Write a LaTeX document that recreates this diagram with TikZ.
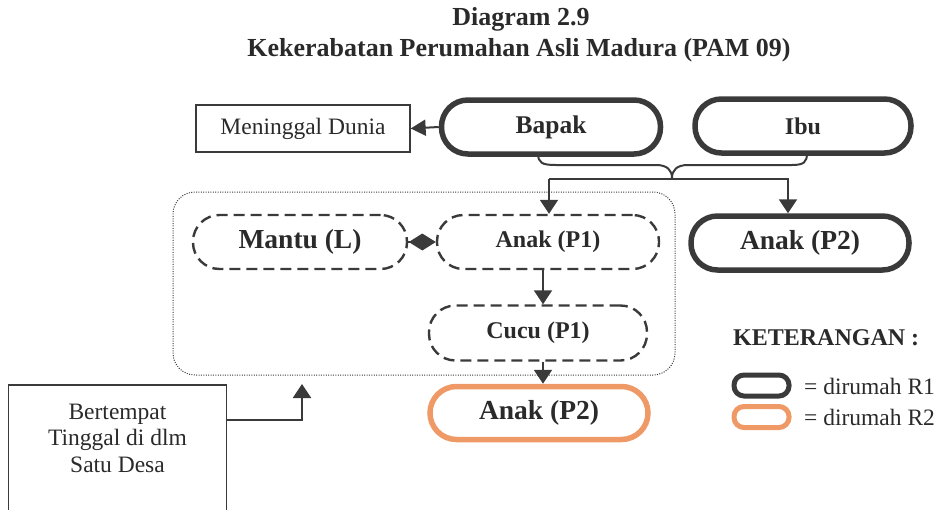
\documentclass[tikz,border=0pt]{standalone}
\usepackage{fontspec}
\setmainfont{Liberation Serif}
\usetikzlibrary{arrows.meta,calc}
\definecolor{ink}{HTML}{2A2A2A}
\definecolor{edge}{HTML}{3A3A3A}
\definecolor{peach}{HTML}{EF9A66}
\begin{document}
\begin{tikzpicture}[x=1pt,y=-1pt,
  every node/.style={text=ink},
  txt/.style={font=\fontsize{23.5}{26.5}\selectfont},
  btxt/.style={font=\bfseries\fontsize{24}{28}\selectfont},
  big/.style={font=\bfseries\fontsize{27.5}{30}\selectfont},
  pill/.style={btxt, draw=edge, line width=5.5pt, rounded corners=26.5pt,
    minimum width=218pt, minimum height=54pt, inner sep=0pt},
  homepill/.style={pill, draw=peach, line width=5.5pt},
  dashpill/.style={pill, line width=2.4pt, dash pattern=on 11pt off 6pt},
  plainbox/.style={txt, draw=edge, line width=1.3pt, inner sep=0pt},
  arr/.style={draw=edge, line width=2pt, -{Triangle[length=14pt,width=18pt]}},
  keypill/.style={draw=edge, line width=5pt, rounded corners=10pt,
    minimum width=55pt, minimum height=21pt, inner sep=0pt},
]
\useasboundingbox (0,0) rectangle (940,509);

% title
\node[font=\bfseries\fontsize{26}{30}\selectfont] (t1) at (521,19) {Diagram 2.9};
\node[font=\bfseries\fontsize{26}{30}\selectfont] (t2) at (519,50)
  {Kekerabatan Perumahan Asli Madura (PAM 09)};

% parents
\node[pill, minimum width=219pt, font=\bfseries\fontsize{25.5}{28}\selectfont] (bapak) at (551,127) {Bapak};
\node[pill, minimum width=216pt] (ibu) at (803,126) {Ibu};
\node[plainbox, minimum width=214pt, minimum height=47pt] (dead) at (303,128.5) {Meninggal Dunia};

% group living in one village
\node[draw=edge, line width=1pt, dash pattern=on 1pt off 1.4pt,
  rounded corners=22pt, minimum width=502pt, minimum height=183pt] (group) at (424,283.5) {};

% children
\node[dashpill, big, minimum width=214pt] (mantu) at (300,242) {Mantu (L)};
\node[dashpill, minimum width=222pt] (anak1) at (548,242) {Anak (P1)};
\node[dashpill, minimum width=218pt, minimum height=55pt] (cucu) at (538,333) {Cucu (P1)};
\node[homepill, big, minimum width=218pt, minimum height=53pt] (anak2b) at (539,413) {Anak (P2)};
\node[pill, big, minimum width=218pt] (anak2a) at (800,243) {Anak (P2)};

% village box
\node[txt, align=center, minimum width=217pt, minimum height=106pt, inner sep=0pt,
  anchor=north] (desa) at (117.5,385) {Bertempat\\Tinggal di dlm\\Satu Desa};
\draw[edge, line width=1.3pt] (desa.south west) -- ++(0,40) (desa.south west)
  -- (desa.north west) -- (desa.north east) -- (desa.south east) -- ++(0,40);

% legend
\node[btxt, anchor=west, inner sep=0pt] (ket) at (733,338) {KETERANGAN :};
\node[keypill] (k1) at (761.5,385.5) {};
\node[keypill, draw=peach] (k2) at (761.5,417) {};
\node[txt, anchor=west, inner sep=0pt] (k1t) at (804,386) {= dirumah R1};
\node[txt, anchor=west, inner sep=0pt] (k2t) at (804,417) {= dirumah R2};

% connectors
\coordinate (bl) at (538,153);
\coordinate (br) at (807,153);
\coordinate (tip) at (672,178);
\coordinate (spine) at (543,0);
\coordinate (rdrop) at (788,0);
\coordinate (uptip) at (302,384);

\draw[arr, -{Triangle[length=15pt,width=16pt]}] (bapak.west) -- (dead.east);
\draw[edge, line width=2pt]
  (bl) .. controls (538,163) and (542,165) .. (556,165) -- (656,165)
  .. controls (667,165) and (672,170) .. (tip)
  .. controls (672,170) and (677,165) .. (688,165) -- (792,165)
  .. controls (804,165) and (807,162) .. (br);
\draw[edge, line width=2pt] (tip |- 0,179) -- (549,179);
\draw[arr] (549,179) -- (anak1.north -| 549,0);
\draw[arr] (tip |- 0,179) -| (anak2a.north -| rdrop);
\draw[draw=edge, line width=2pt, -{Diamond[length=27pt,width=17pt]}] (mantu.east) -- (anak1.west);
\draw[arr] (anak1.south -| spine) -- (cucu.north -| spine);
\draw[arr] (cucu.south -| spine) -- (anak2b.north -| spine);
\draw[arr] ($(desa.north east)+(0,35)$) -| (uptip);
\end{tikzpicture}
\end{document}
